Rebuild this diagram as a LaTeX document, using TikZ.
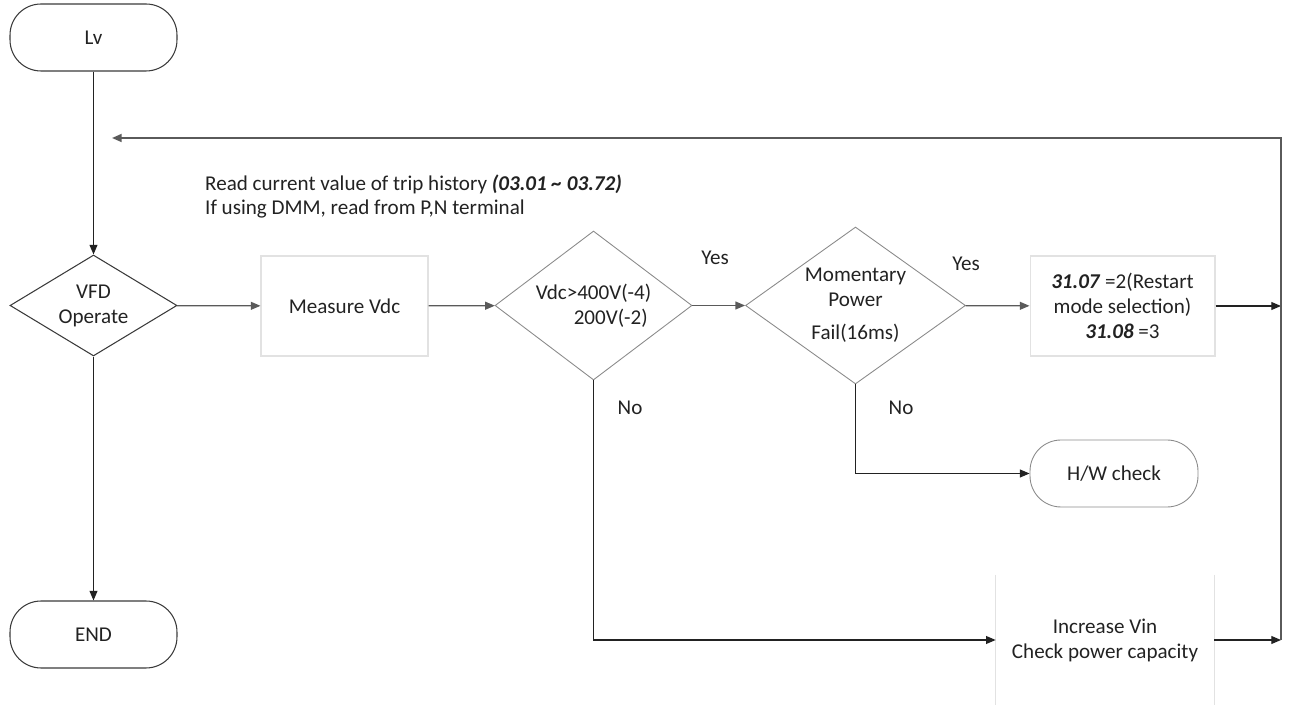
\documentclass[tikz,border=0pt]{standalone}
\usepackage{fontspec}
\setmainfont{Carlito}
\usetikzlibrary{positioning, arrows.meta, shapes.geometric}
\definecolor{textdark}{HTML}{222222}
\definecolor{termstroke}{HTML}{3A3A3A}
\definecolor{decstroke}{HTML}{8A8A8A}
\definecolor{boxstroke}{HTML}{E2E2E2}
\definecolor{linedark}{HTML}{222222}
\definecolor{busgray}{HTML}{5A5A5A}

\begin{document}
\begin{tikzpicture}[
    x=0.02cm, y=-0.02cm,
    font=\fontsize{12}{14.2}\selectfont, text=textdark,
    term/.style={
        draw=#1, rectangle, rounded corners=0.62cm, line width=0.6pt,
        minimum width=3.34cm, minimum height=1.34cm, align=center
    },
    decision/.style={
        draw=#1, diamond, inner sep=0pt, align=center, line width=0.5pt
    },
    procbox/.style={
        draw=boxstroke, rectangle, minimum height=2cm, align=center,
        line width=0.6pt
    },
    arr/.style={
        -{Triangle[length=5.5pt, width=4.5pt]}, line width=0.7pt, color=#1
    },
    arr/.default=linedark,
    lbl/.style={font=\fontsize{12}{14.2}\selectfont}
]
\useasboundingbox (0,0) rectangle (1289,705);

% Start / end
\node[term=termstroke] (lv) at (93.5,37.5) {Lv};
\node[term=termstroke] (endnode) at (93.5,634.5) {END};

% Main row
\node[decision=termstroke, aspect=1.65, line width=0.6pt,
      minimum width=3.34cm, minimum height=2.02cm] (vfd) at (93.5,305.5) {VFD\\Operate};
\node[procbox, minimum width=3.34cm] (measure) at (344.5,306) {Measure Vdc};
\node[decision=decstroke, aspect=1.33, align=right,
      minimum width=3.94cm, minimum height=2.98cm] (vdc) at (593.5,305.5)
      {Vdc>400V(-4)\\200V(-2)\hspace*{2pt}};
\node[decision=decstroke, aspect=1.4,
      minimum width=4.4cm, minimum height=3.14cm] (mpf) at (855.5,305.5)
      {Momentary\\Power\\[4.5pt]Fail(16ms)};
\node[procbox, minimum width=3.7cm] (restart) at (1122.5,306)
      {\textbf{\textit{31.07}} =2(Restart\\mode selection)\\\textbf{\textit{31.08}} =3};

% Branch results
\node[term=decstroke, line width=0.5pt, minimum width=3.36cm] (hwcheck) at (1114,473.5) {H/W check};
\node[minimum width=4.36cm, minimum height=2.6cm, align=center] (incvin) at (1105,640)
      {Increase Vin\\Check power capacity};
\draw[boxstroke, line width=0.6pt] (incvin.north west) -- (incvin.south west);
\draw[boxstroke, line width=0.6pt] (incvin.north east) -- (incvin.south east);

% Notes and labels
\node[anchor=west, align=left] (note) at (199,196.5)
      {Read current value of trip history \textbf{\textit{(03.01 \char`\~\ 03.72)}}\\If using DMM, read from P,N terminal};
\node[lbl] (yesa) at (715,258) {Yes};
\node[lbl] (yesb) at (966,264) {Yes};
\node[lbl] (noa) at (630,408) {No};
\node[lbl] (nob) at (901,408) {No};

% Return bus
\coordinate (bustop) at (1281,138);
\coordinate (busbot) at (1281,640);
\coordinate (fbend) at (112,138);

% Connectors
\draw[arr] (lv) -- (vfd);
\draw[arr] (vfd) -- (endnode);
\draw[arr=busgray] (vfd) -- (measure);
\draw[arr=busgray] (measure) -- (vdc);
\draw[arr=busgray] (vdc) -- (mpf);
\draw[arr=busgray] (mpf) -- (restart);
\draw[arr] (vdc.south) |- (incvin.west);
\draw[arr] (mpf.south) |- (hwcheck.west);
\draw[arr] (restart.east) -- (restart.east -| bustop);
\draw[arr] (incvin.east) -- (busbot);
\draw[arr=busgray, line width=1.1pt] (busbot) -- (bustop) -- (fbend);

\end{tikzpicture}
\end{document}
